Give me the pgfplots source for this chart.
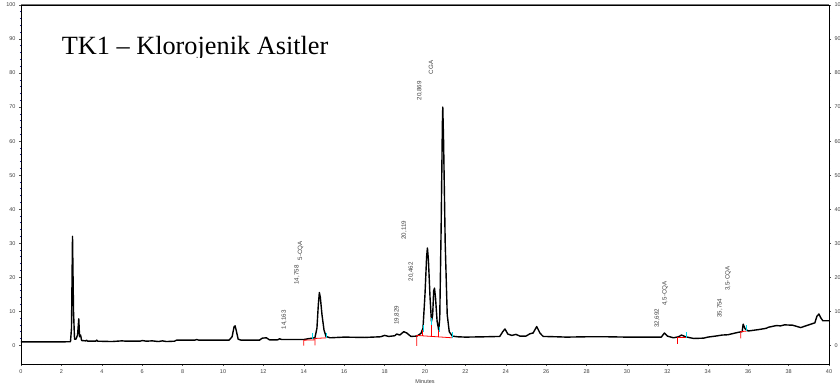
\documentclass[border=0pt]{standalone}
\usepackage{fontspec}
\setmainfont{Liberation Serif}
\newfontfamily\arial{Liberation Sans}
\usepackage{pgfplots}
\pgfplotsset{compat=1.18}
\definecolor{tickblue}{RGB}{30,30,150}
\definecolor{cyanmark}{RGB}{0,215,230}
\newcommand{\tickfont}{\arial\fontsize{5.5}{6}\selectfont}
\newcommand{\pkfont}{\arial\fontsize{6.2}{7}\selectfont}
\begin{document}
\begin{tikzpicture}
\path[use as bounding box] (-21pt,-23pt) rectangle (819pt,364pt);
\begin{axis}[
  at={(0,0)}, anchor=south west,
  scale only axis, width=808pt, height=359pt,
  xmin=0, xmax=40, ymin=-5.5, ymax=100,
  xtick={0,2,...,40}, ytick={0,10,...,100},
  minor x tick num=9, minor y tick num=4,
  xtick pos=bottom, ytick pos=left,
  tick align=outside,
  major tick length=2pt, minor tick length=1.2pt,
  every major tick/.style={black!70, line width=0.5pt},
  every minor tick/.style={tickblue, line width=0.7pt},
  ticklabel style={font=\tickfont, text=black!75},
  /pgf/number format/assume math mode=true,
  xlabel={Minutes}, xlabel style={font=\tickfont, text=black!75, at={(axis description cs:0.5,0)}, anchor=center, yshift=-18pt},
  axis line style={black, line width=0.8pt},
]
\addplot[black, line width=1.4pt, line join=round] coordinates {
(0,1.0) (2.0,1.0) (2.45,1.05) (2.5,5) (2.55,32) (2.6,10) (2.65,1.8) (2.72,1.8)
(2.8,3) (2.86,7.8) (2.9,2.5) (2.95,3.0) (3.0,1.4) (3.2,1.3) (3.25,1.5) (3.3,1.2)
(3.7,1.2) (3.75,1.5) (3.8,1.2) (4.5,1.1) (5.0,1.3) (5.2,1.2) (5.9,1.2) (6.0,1.4)
(6.2,1.2) (6.5,1.3) (6.8,1.1) (7.0,1.3) (7.2,1.1) (7.6,1.2) (7.7,1.5) (8.6,1.5)
(8.7,1.7) (8.8,1.5) (10.3,1.5) (10.45,2.5) (10.55,5.5) (10.6,5.7) (10.65,4.5)
(10.75,1.8) (10.9,1.5) (11.8,1.5) (11.95,2.1) (12.15,2.2) (12.3,1.6) (12.7,1.6)
(12.8,1.9) (12.9,1.7) (14.0,1.7) (14.3,2.0) (14.55,2.2) (14.65,5) (14.72,12)
(14.77,15.5) (14.82,14) (14.9,9) (15.0,4.5) (15.1,2.6) (15.3,2.2) (16.0,2.4)
(17.0,2.3) (17.8,2.5) (18.0,2.9) (18.2,2.6) (18.5,2.8) (18.6,3.3) (18.75,3.0)
(18.95,4.0) (19.1,3.6) (19.3,2.6) (19.6,2.7) (19.8,3.5) (19.9,5) (20.0,15)
(20.08,26) (20.12,28.6) (20.17,25) (20.25,14) (20.32,7.0) (20.38,9) (20.43,16)
(20.47,16.8) (20.52,14) (20.6,7) (20.68,4.5) (20.73,8) (20.8,35) (20.86,65)
(20.88,70) (20.92,60) (21.0,30) (21.1,9) (21.2,4) (21.35,2.7) (21.6,2.5)
(22.0,2.4) (23.0,2.5) (23.7,2.6) (23.85,4) (23.96,4.8) (24.1,3.3) (24.3,2.9)
(24.5,3.2) (24.7,2.7) (25.0,2.7) (25.2,3.4) (25.35,3.6) (25.53,5.5) (25.7,3.5)
(25.85,2.6) (26.5,2.5) (27.0,2.4) (28.0,2.5) (29.0,2.5) (30.0,2.4) (31.0,2.4)
(31.7,2.4) (31.85,3.6) (32.0,2.7) (32.3,2.2) (32.55,2.5) (32.7,3.0) (32.9,2.5)
(33.3,2.0) (33.8,2.1) (34.0,2.4) (34.5,2.8) (34.7,3.0) (35.0,3.1) (35.5,3.8)
(35.7,4.0) (35.75,6.2) (35.85,4.8) (36.0,4.2) (36.5,4.6) (36.9,5.0) (37.0,5.3)
(37.4,5.8) (37.6,5.7) (37.8,6.0) (38.2,5.9) (38.6,5.2) (38.8,5.6) (39.0,6.0)
(39.3,6.6) (39.4,8.5) (39.5,9.2) (39.6,8.0) (39.7,7.2) (40,7.2)
};
% integration marks (red)
\addplot[red, line width=0.8pt] coordinates {(14.0,-0.1) (14.0,1.5) (14.55,1.6)};
\addplot[red, line width=0.8pt] coordinates {(14.55,0.0) (14.55,2.0) (15.13,2.2)};
\addplot[red, line width=0.8pt] coordinates {(19.59,-0.2) (19.59,2.9) (21.35,2.2)};
\addplot[red, line width=0.8pt] coordinates {(19.88,2.85) (19.88,4.5)};
\addplot[red, line width=0.8pt] coordinates {(20.3,2.65) (20.3,7)};
\addplot[red, line width=0.8pt] coordinates {(20.68,2.5) (20.68,4.5)};
\addplot[red, line width=0.8pt] coordinates {(32.5,0.5) (32.5,2.4) (32.95,2.4)};
\addplot[red, line width=0.8pt] coordinates {(35.63,2.0) (35.63,4.0) (35.93,4.2)};
% cyan marks
\addplot[cyanmark, line width=0.8pt] coordinates {(14.42,1.8) (14.42,3.5)};
\addplot[cyanmark, line width=0.8pt] coordinates {(15.13,2.2) (15.13,3.6)};
\addplot[cyanmark, line width=0.8pt] coordinates {(19.92,4) (19.92,6)};
\addplot[cyanmark, line width=0.8pt] coordinates {(20.33,6) (20.33,8)};
\addplot[cyanmark, line width=0.8pt] coordinates {(20.71,4) (20.71,5.5)};
\addplot[cyanmark, line width=0.8pt] coordinates {(21.35,2.2) (21.35,4)};
\addplot[cyanmark, line width=0.8pt] coordinates {(32.95,2.0) (32.95,3.8)};
\addplot[cyanmark, line width=0.8pt] coordinates {(35.93,4.2) (35.93,6)};
% top frame in gray
\draw[black!55, line width=1pt] (rel axis cs:0,1) -- (rel axis cs:1,1);
% peak labels
\begin{scope}[every node/.style={font=\pkfont, text=black!75, rotate=90, anchor=west, inner sep=0pt}]
\node at (axis cs:13.02,4.6) {14,163};
\node at (axis cs:13.66,17.8) {14,758};
\node at (axis cs:13.84,24.9) {5-CQA};
\node at (axis cs:18.61,6.0) {19,829};
\node at (axis cs:18.96,31.0) {20,119};
\node at (axis cs:19.31,18.7) {20,462};
\node at (axis cs:19.73,71.9) {20,869};
\node at (axis cs:20.3,79.6) {CGA};
\node at (axis cs:31.49,5.1) {32,692};
\node at (axis cs:31.88,11.6) {4,5-CQA};
\node at (axis cs:34.6,8.1) {35,754};
\node at (axis cs:35.0,16.0) {3,5-CQA};
\end{scope}
% title
\begin{scope}
\clip (axis cs:1,84.7) rectangle (axis cs:25,99);
\node[anchor=base west, inner sep=0pt, font=\fontsize{26.3}{28}\selectfont] at (axis cs:2.01,85.4) {TK1 – Klorojenik Asitler};
\end{scope}
\end{axis}
\begin{axis}[
  at={(0,0)}, anchor=south west,
  scale only axis, width=808pt, height=359pt,
  xmin=0, xmax=40, ymin=-5.5, ymax=100,
  axis x line=none, axis y line*=right,
  ytick={0,10,...,100}, minor y tick num=4,
  ytick pos=right, yticklabel pos=right,
  tick align=outside,
  major tick length=2pt, minor tick length=1.2pt,
  every major tick/.style={black!70, line width=0.5pt},
  every minor tick/.style={tickblue, line width=0.7pt},
  ticklabel style={font=\tickfont, text=black!75},
  /pgf/number format/assume math mode=true,
  axis line style={black, line width=0.8pt},
]
\addplot[draw=none] coordinates {(0,0)};
\end{axis}
\end{tikzpicture}
\end{document}
